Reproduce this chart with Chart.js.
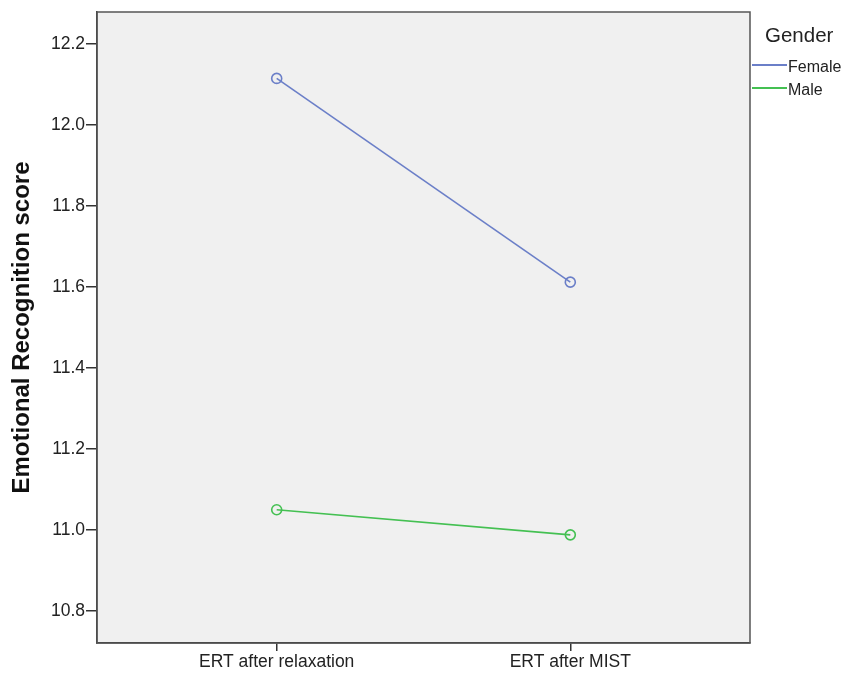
<!DOCTYPE html>
<html>
<head>
<meta charset="utf-8">
<script src="https://cdn.jsdelivr.net/npm/chart.js@4"></script>
<style>
  html, body { margin: 0; padding: 0; background: #fff; }
  #wrap { position: relative; width: 845px; height: 675px; overflow: hidden; font-family: "Liberation Sans", Arial, sans-serif; }
  #legend { position: absolute; left: 752px; top: 22px; color: #222; }
  #legend .title { font-size: 20.5px; margin-left: 13px; margin-bottom: 7px; line-height: 26px; }
  #legend .item { display: flex; align-items: center; font-size: 16px; height: 23px; }
  #legend .swatch { width: 35px; height: 2px; margin-right: 1px; margin-top: -3px; }
</style>
</head>
<body>
<div id="wrap">
  <canvas id="chart" width="845" height="675"></canvas>
  <div id="legend"></div>
</div>
<script>
// =============================
// ERT profile plot data
// =============================
const categories = ['ERT after relaxation', 'ERT after MIST'];
const seriesNames = ['Female', 'Male'];
const femaleScores = [12.115, 11.612];
const maleScores = [11.05, 10.988];
const yTicks = [10.8, 11.0, 11.2, 11.4, 11.6, 11.8, 12.0, 12.2];

const seriesColors = ['#6b7fc8', '#44c052'];
const axisColor = '#333333';

// plot background + frame
const plotFrame = {
    id: 'plotFrame',
    beforeDraw(chart) {
        const a = chart.chartArea;
        const ctx = chart.ctx;
        ctx.save();
        ctx.fillStyle = '#f0f0f0';
        ctx.fillRect(a.left, a.top, a.right - a.left, a.bottom - a.top);
        ctx.restore();
    },
    afterDraw(chart) {
        const a = chart.chartArea;
        const ctx = chart.ctx;
        ctx.save();
        ctx.strokeStyle = '#555';
        ctx.lineWidth = 1.5;
        ctx.strokeRect(a.left, a.top, a.right - a.left, a.bottom - a.top);
        ctx.restore();
    }
};

function toPoints(values) {
    return values.map((v, i) => ({ x: i, y: v }));
}

const ctx = document.getElementById('chart').getContext('2d');
new Chart(ctx, {
    type: 'line',
    data: {
        datasets: [
            { label: seriesNames[0], data: toPoints(femaleScores) },
            { label: seriesNames[1], data: toPoints(maleScores) }
        ].map((d, i) => Object.assign(d, {
            borderColor: seriesColors[i],
            backgroundColor: 'transparent',
            borderWidth: 1.6,
            pointRadius: 5,
            pointBorderWidth: 1.6,
            pointBackgroundColor: 'transparent',
            pointBorderColor: seriesColors[i],
            tension: 0
        }))
    },
    options: {
        responsive: false,
        animation: false,
        layout: { padding: { top: 12, right: 95, left: 0, bottom: 0 } },
        plugins: { legend: { display: false }, tooltip: { enabled: false } },
        scales: {
            x: {
                type: 'linear',
                min: -0.612,
                max: 1.612,
                afterBuildTicks: scale => { scale.ticks = categories.map((c, i) => ({ value: i })); },
                afterFit: scale => { scale.height = 32; },
                ticks: {
                    callback: v => categories[v],
                    color: '#222',
                    font: { family: 'Liberation Sans', size: 17.5 },
                    padding: 1,
                    maxRotation: 0
                },
                grid: { drawOnChartArea: false, drawTicks: true, tickLength: 8, color: axisColor, lineWidth: 1.5 },
                border: { display: true, color: axisColor, width: 1.5 }
            },
            y: {
                min: 10.721,
                max: 12.279,
                afterBuildTicks: scale => { scale.ticks = yTicks.map(v => ({ value: v })); },
                afterFit: scale => { scale.width = 97; },
                ticks: {
                    callback: v => v.toFixed(1),
                    color: '#222',
                    font: { family: 'Liberation Sans', size: 17.5 },
                    padding: 1
                },
                grid: { drawOnChartArea: false, drawTicks: true, tickLength: 11, color: axisColor, lineWidth: 1.5 },
                border: { display: true, color: axisColor, width: 1.5 },
                title: {
                    display: true,
                    text: 'Emotional Recognition score',
                    color: '#111',
                    font: { family: 'Liberation Sans', size: 24, weight: 'bold' },
                    padding: { top: 8, bottom: 0 }
                }
            }
        }
    },
    plugins: [plotFrame]
});

// legend built from the same arrays
const legendEl = document.getElementById('legend');
legendEl.innerHTML = '<div class="title">Gender</div>' + seriesNames.map((n, i) =>
    `<div class="item"><span class="swatch" style="background:${seriesColors[i]}"></span>${n}</div>`
).join('');
</script>
</body>
</html>
